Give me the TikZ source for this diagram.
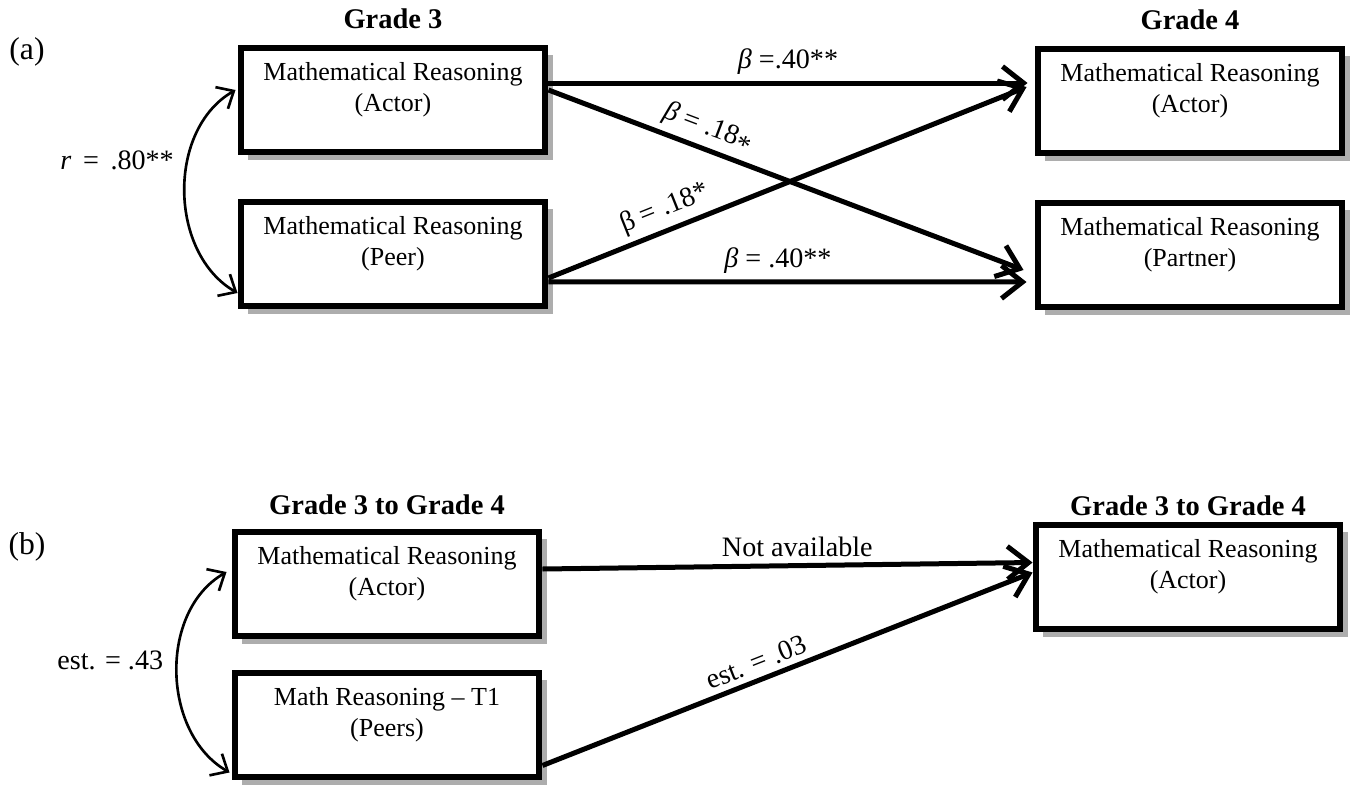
\documentclass[tikz,border=0pt]{standalone}
\usepackage{fontspec}
\setmainfont{Liberation Serif}
\usetikzlibrary{arrows.meta,positioning,shadows}

\newcommand{\mrlines}[2]{\parbox[t][1.5cm][t]{6cm}{\centering #1\\#2}}

\tikzset{
  mrbox/.style={draw, line width=0.12cm, fill=white, minimum width=6.1cm,
    minimum height=2.1cm, inner xsep=0pt, inner ysep=0.3cm,
    drop shadow={shadow xshift=0.15cm, shadow yshift=-0.15cm, fill=black!40, opacity=0.8}},
  grade/.style={font=\fontsize{16.2}{19}\selectfont\bfseries},
  panel/.style={font=\fontsize{18}{21}\selectfont},
  est/.style={font=\fontsize{16}{19}\selectfont},
  effect/.style={line width=0.1cm, -{Straight Barb[length=0.42cm, width=0.66cm]}},
  corr/.style={line width=1.5pt, {Straight Barb[length=0.28cm, width=0.5cm]}-{Straight Barb[length=0.28cm, width=0.5cm]}},
}

\begin{document}
\begin{tikzpicture}[x=0.02cm, y=-0.02cm, font=\fontsize{14.8}{17.5}\selectfont]
    \useasboundingbox (0,0) rectangle (1355,787);

    % (a) Grade 3 -> Grade 4
    \node[panel] (panela) at (27,52) {(a)};
    \node[mrbox] (a1) at (393,100) {\mrlines{Mathematical Reasoning}{(Actor)}};
    \node[mrbox] (a2) at (393,254) {\mrlines{Mathematical Reasoning}{(Peer)}};
    \node[mrbox] (b1) at (1190,101) {\mrlines{Mathematical Reasoning}{(Actor)}};
    \node[mrbox] (b2) at (1190,255) {\mrlines{Mathematical Reasoning}{(Partner)}};
    \node[grade, above=0.2cm of a1] (g3) {Grade 3};
    \node[grade, above=0.2cm of b1] (g4) {Grade 4};

    \draw[corr] ([yshift=0.2cm, xshift=-0.04cm]a1.west) to[out=210, in=150]
      node[est, pos=0.37, left=4pt] (rlab) {\textit{r}\, = \,.80**} ([yshift=-0.78cm]a2.west);

    \draw[effect] ([yshift=0.34cm]a1.east) -- node[est, above] (l1) {\textit{β} =.40**}
      ([yshift=0.36cm, xshift=-0.14cm]b1.west);
    \draw[effect] ([yshift=0.2cm]a1.east) --
      node[est, above, sloped, pos=0.32] (x1) {\textit{β} = .18\raisebox{-0.45ex}{*}}
      ([xshift=-0.22cm, yshift=-0.3cm]b2.west);
    \draw[effect] ([yshift=-0.48cm]a2.east) --
      node[est, above, sloped, pos=0.26] (x2) {β = .18*}
      ([xshift=-0.16cm, yshift=0.28cm]b1.west);
    \draw[effect] ([yshift=-0.56cm]a2.east) -- node[est, above, pos=0.48] (l4) {\textit{β} = .40**}
      ([xshift=-0.16cm, yshift=-0.54cm]b2.west);

    % (b) Grade 3 to Grade 4
    \node[panel] (panelb) at (27,547) {(b)};
    \node[mrbox] (c1) at (387,584) {\mrlines{Mathematical Reasoning}{(Actor)}};
    \node[mrbox] (c2) at (387,725) {\mrlines{Math Reasoning – T1}{(Peers)}};
    \node[mrbox] (d1) at (1188,577) {\mrlines{Mathematical Reasoning}{(Actor)}};
    \node[grade, above=0.15cm of c1] (g34a) {Grade 3 to Grade 4};
    \node[grade, above=0pt of d1] (g34b) {Grade 3 to Grade 4};

    \draw[corr] ([xshift=-0.1cm, yshift=0.24cm]c1.west) to[out=210, in=150]
      node[est, pos=0.45, left=4pt] (e43) {est. = .43} ([xshift=-0.04cm, yshift=-0.95cm]c2.west);

    \draw[effect] ([yshift=0.3cm]c1.east) -- node[est, above, pos=0.52] (na) {Not available}
      ([yshift=0.29cm]d1.west);
    \draw[effect] ([yshift=-0.81cm]c2.east) --
      node[est, above, sloped, pos=0.45] (e03) {est. = .03}
      ([yshift=0.09cm]d1.west);
\end{tikzpicture}
\end{document}
